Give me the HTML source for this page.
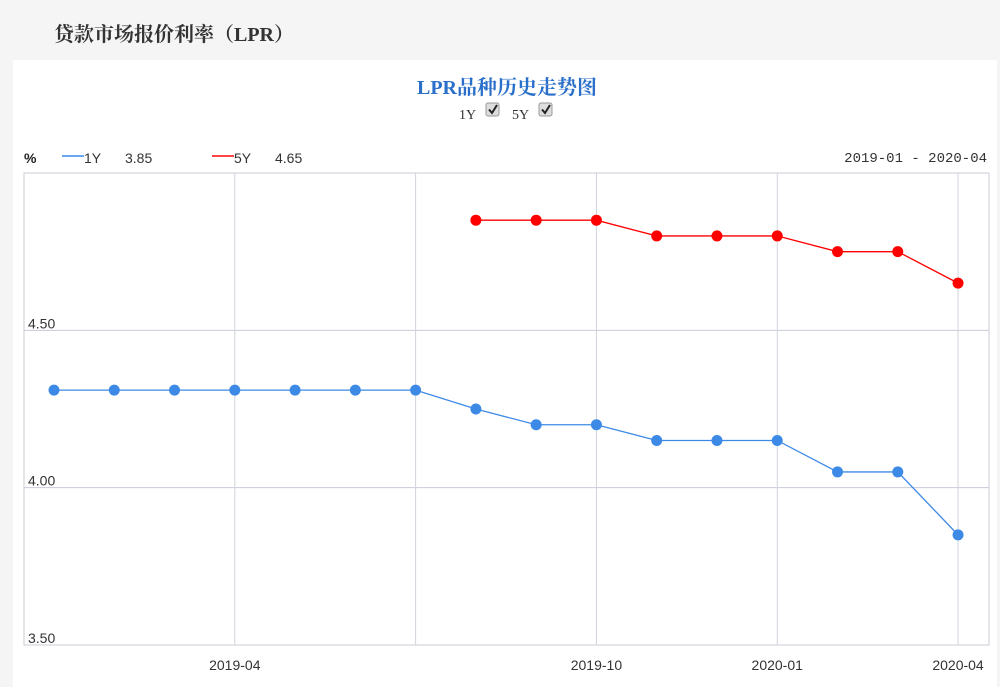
<!DOCTYPE html>
<html><head><meta charset="utf-8"><style>
body{margin:0;width:1000px;height:687px;background:#f5f5f5;overflow:hidden;font-family:"Liberation Sans","Noto Sans CJK SC",sans-serif;}
#page-title{position:absolute;left:54px;top:18px;font-family:"Liberation Serif","Noto Serif CJK SC",serif;font-size:20px;font-weight:bold;color:#333;}
#panel{position:absolute;left:13px;top:60px;width:984px;height:627px;background:#fff;}
svg{position:absolute;left:0;top:0;}
</style></head><body>
<div id="page-title">贷款市场报价利率（LPR）</div>
<div id="panel"></div>
<svg id="chart" width="1000" height="687"></svg>
<script>
const months=["2019-01","2019-02","2019-03","2019-04","2019-05","2019-06","2019-07","2019-08","2019-09","2019-10","2019-11","2019-12","2020-01","2020-02","2020-03","2020-04"];
const y1Values=[4.31,4.31,4.31,4.31,4.31,4.31,4.31,4.25,4.20,4.20,4.15,4.15,4.15,4.05,4.05,3.85];
const y5Values=[null,null,null,null,null,null,null,4.85,4.85,4.85,4.80,4.80,4.80,4.75,4.75,4.65];
const yTicks=[3.5,4.0,4.5];
const xLabelMonths=["2019-04","2019-10","2020-01","2020-04"];
const xGridMonths=["2019-04","2019-07","2019-10","2020-01","2020-04"];

const NS="http://www.w3.org/2000/svg";
const svg=document.getElementById('chart');
const L=24,R=989,T=173,B=645;
const xs=i=>54+i*60.27;
const ys=v=>B-(v-3.5)*(B-T)/1.5;
function mk(tag,attrs,text){const e=document.createElementNS(NS,tag);for(const k in attrs)e.setAttribute(k,attrs[k]);if(text!=null)e.textContent=text;svg.appendChild(e);return e;}

let e;
e=mk('text',{x:507,y:94,'text-anchor':'middle','font-size':20,'font-weight':'bold',fill:'#2a6fc9','font-family':'"Liberation Serif","Noto Serif CJK SC",serif'},'LPR品种历史走势图');


[["1Y",459,486],["5Y",512,539]].forEach(([t,tx,bx])=>{
 e=mk('text',{x:tx,y:119,'font-size':14,fill:'#333','font-family':'"Liberation Serif",serif'},t);
 
 
 e=mk('rect',{x:bx,y:103,width:13,height:13,rx:2,fill:'#ddd',stroke:'#999'});
 
 
 mk('path',{d:`M${bx+3} 109.5 L${bx+6} 113 L${bx+11} 105`,fill:'none',stroke:'#222','stroke-width':2});
});
e=mk('text',{x:24,y:163,'font-size':14,fill:'#222','font-weight':'bold'},'%');

mk('line',{x1:62,y1:156,x2:84,y2:156,stroke:'#6aa7ef','stroke-width':2});
e=mk('text',{x:84,y:163,'font-size':14,fill:'#333'},'1Y');

mk('text',{x:125,y:163,'font-size':14,fill:'#333'},y1Values[y1Values.length-1].toFixed(2));
mk('line',{x1:212,y1:156,x2:234,y2:156,stroke:'#f44','stroke-width':2});
e=mk('text',{x:234,y:163,'font-size':14,fill:'#333'},'5Y');

mk('text',{x:275,y:163,'font-size':14,fill:'#333'},y5Values[y5Values.length-1].toFixed(2));
e=mk('text',{x:987,y:162,'text-anchor':'end','font-size':14,fill:'#333','font-family':'"Liberation Mono",monospace'},months[0]+' - '+months[months.length-1]);

e=mk('rect',{x:L,y:T,width:R-L,height:B-T,fill:'none',stroke:'#c8ccd8'});

yTicks.forEach(v=>{
 mk('line',{x1:L,x2:R,y1:ys(v),y2:ys(v),stroke:'#c8ccd8'});
 e=mk('text',{x:28,y:ys(v)-2,'font-size':14,fill:'#333'},v.toFixed(2));
 
});
xGridMonths.forEach(m=>{const x=xs(months.indexOf(m));mk('line',{x1:x,x2:x,y1:T,y2:B,stroke:'#d0d3dc'});});
xLabelMonths.forEach(m=>{const x=xs(months.indexOf(m));
 e=mk('text',{x:x,y:670,'text-anchor':'middle','font-size':14,fill:'#333'},m);
 });
function series(vals,color,name){
 const pts=[];vals.forEach((v,i)=>{if(v!=null)pts.push([xs(i),ys(v)]);});
 e=mk('polyline',{points:pts.map(p=>p.join(',')).join(' '),fill:'none',stroke:color,'stroke-width':1.3});
 
 pts.forEach(p=>{e=mk('circle',{cx:p[0],cy:p[1],r:5.5,fill:color});
  });
}
series(y1Values,'#3d8ae6','series-1y');
series(y5Values,'#ff0000','series-5y');
</script>
</body></html>
